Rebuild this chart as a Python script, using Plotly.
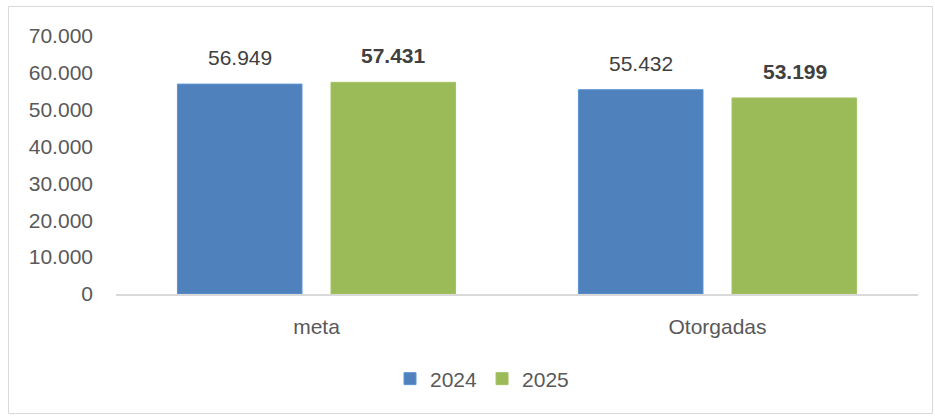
import plotly.graph_objects as go

categories = ["meta", "Otorgadas"]
series_names = ["2024", "2025"]
values_2024 = [56949, 55432]
values_2025 = [57431, 53199]
y_ticks = [0, 10000, 20000, 30000, 40000, 50000, 60000, 70000]

colors = ["#4F81BD", "#9BBB59"]
edge_colors = ["#5B95D3", "#A4C264"]
FONT = "Liberation Sans, Arial, sans-serif"

def fmt(v):
    return f"{v:,}".replace(",", ".")

fig = go.Figure()
for name, vals, c, ec in zip(series_names, [values_2024, values_2025], colors, edge_colors):
    fig.add_trace(go.Bar(
        x=categories, y=vals, name=name,
        marker=dict(color=c, line=dict(color=ec, width=1)),
        hoverinfo="skip",
    ))

W, H = 935, 417
L, R, T, B = 116, 17, 36, 123
pw, ph = W - L - R, H - T - B

annotations = []
offsets = [-77, 77]
for vals, off, bold in zip([values_2024, values_2025], offsets, [False, True]):
    for cat, v in zip(categories, vals):
        txt = fmt(v)
        if bold:
            txt = f"<b>{txt}</b>"
        annotations.append(dict(
            x=cat, y=v, xref="x", yref="y", text=txt, showarrow=False,
            xshift=off, yshift=26.5, yanchor="middle", xanchor="center",
            font=dict(family=FONT, size=21, color="#404040"),
        ))

def px_x(x):
    return (x - L) / pw

def px_y(y):
    return (H - B - y) / ph

fig.update_layout(
    width=W, height=H,
    margin=dict(l=L, r=R, t=T, b=B, autoexpand=False),
    paper_bgcolor="white", plot_bgcolor="white",
    separators=",.",
    barmode="group", bargap=0.234, bargroupgap=0.189,
    font=dict(family=FONT, size=21, color="#595959"),
    showlegend=True,
    legend=dict(orientation="h", x=px_x(482), y=px_y(379), xanchor="center", yanchor="middle",
                font=dict(family=FONT, size=21, color="#595959"),
                itemwidth=30, traceorder="normal", bgcolor="rgba(0,0,0,0)"),
    xaxis=dict(showgrid=False, showline=True, linecolor="#D9D9D9", linewidth=2,
               ticks="", ticklabelstandoff=13, tickfont=dict(size=21, color="#595959")),
    yaxis=dict(range=[0, 70000], tickvals=y_ticks, tickformat=",d", showgrid=False,
               zeroline=False, showline=False, ticks="", ticklabelstandoff=22,
               tickfont=dict(size=21, color="#595959")),
    annotations=annotations,
    shapes=[dict(type="rect", xref="paper", yref="paper",
                 x0=px_x(8.5), x1=px_x(932.5), y0=px_y(413.5), y1=px_y(6.5),
                 line=dict(color="#D9D9D9", width=1), fillcolor="rgba(0,0,0,0)", layer="below")],
)

fig.write_html("out.html")
